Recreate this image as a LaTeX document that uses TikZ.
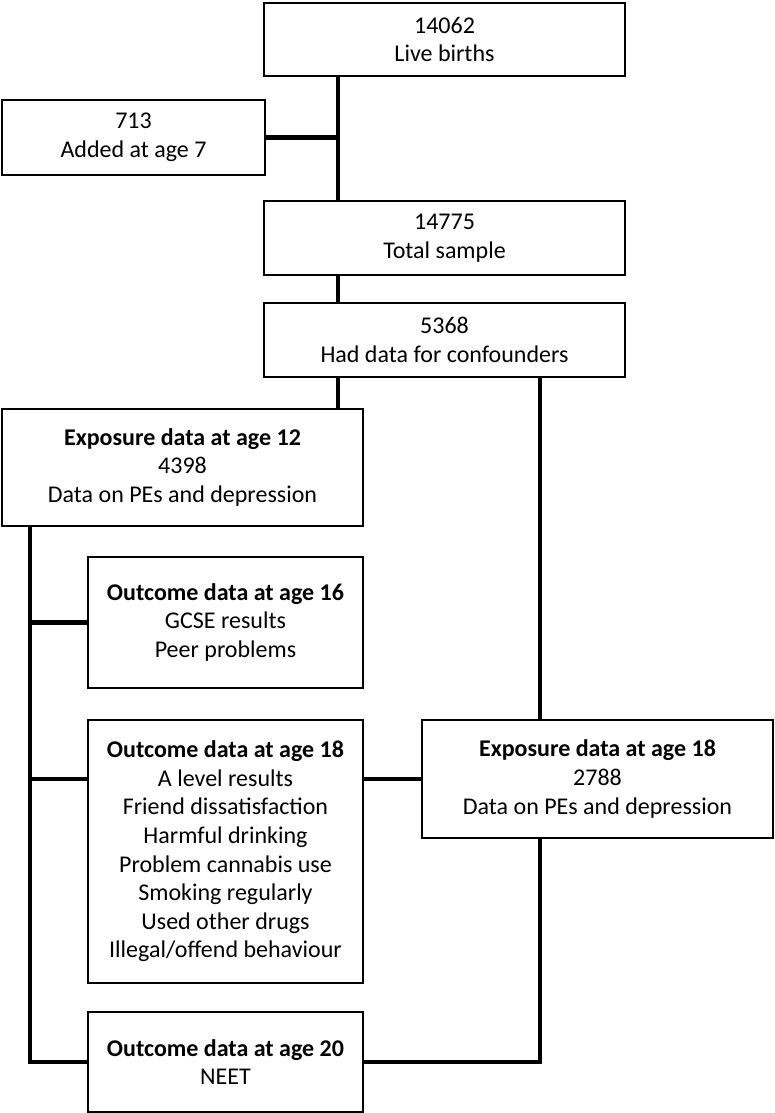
\documentclass[tikz,border=0pt]{standalone}
\usepackage{fontspec}
\setmainfont{Carlito}
\begin{document}
\begin{tikzpicture}[x=1pt,y=-1pt,
  box/.style={draw=black, line width=2pt, anchor=north west, align=center,
    inner sep=0pt, font=\fontsize{24}{28.6}\selectfont},
  conn/.style={draw=black, line width=4.2pt}]
\useasboundingbox (0,0) rectangle (774,1113);
\node[box, minimum width=361pt, minimum height=73pt] (A) at (263,2) {14062\\Live births};
\node[box, minimum width=263pt, minimum height=75pt] (B) at (1,99) {713\\Added at age 7};
\node[box, minimum width=361pt, minimum height=74pt] (C) at (263,200) {14775\\Total sample};
\node[box, minimum width=361pt, minimum height=74pt] (D) at (263,302) {5368\\Had data for confounders};
\node[box, minimum width=361pt, minimum height=117pt] (E12) at (1,408) {\textbf{Exposure data at age 12}\\4398\\Data on PEs and depression};
\node[box, minimum width=275pt, minimum height=131pt] (O16) at (87,556) {\textbf{Outcome data at age 16}\\GCSE results\\Peer problems};
\node[box, minimum width=275pt, minimum height=263pt] (O18) at (87,719) {\textbf{Outcome data at age 18}\\A level results\\Friend dissatisfaction\\Harmful drinking\\Problem cannabis use\\Smoking regularly\\Used other drugs\\Illegal/offend behaviour};
\node[box, minimum width=351pt, minimum height=118pt] (E18) at (421,719) {\textbf{Exposure data at age 18}\\2788\\Data on PEs and depression};
\node[box, minimum width=275pt, minimum height=100pt] (O20) at (87,1011) {\textbf{Outcome data at age 20}\\NEET};
\coordinate (xm) at (338,0);
\coordinate (xl) at (30,0);
\coordinate (xr) at (540,0);
\draw[conn] (A.south -| xm) -- (C.north -| xm);
\draw[conn] (B.east) -- (B.east -| xm);
\draw[conn] (C.south -| xm) -- (D.north -| xm);
\draw[conn] (D.south -| xm) -- (E12.north -| xm);
\draw[conn] (D.south -| xr) -- (E18.north -| xr);
\draw[conn] (E12.south -| xl) -- (O20.west -| xl) -- (O20.west);
\draw[conn] (O16.west -| xl) -- (O16.west);
\draw[conn] (E18.west -| xl) -- (E18.west -| O18.west);
\draw[conn] (E18.west -| O18.east) -- (E18.west);
\draw[conn] (E18.south -| xr) -- (O20.east -| xr) -- (O20.east);
\end{tikzpicture}
\end{document}
